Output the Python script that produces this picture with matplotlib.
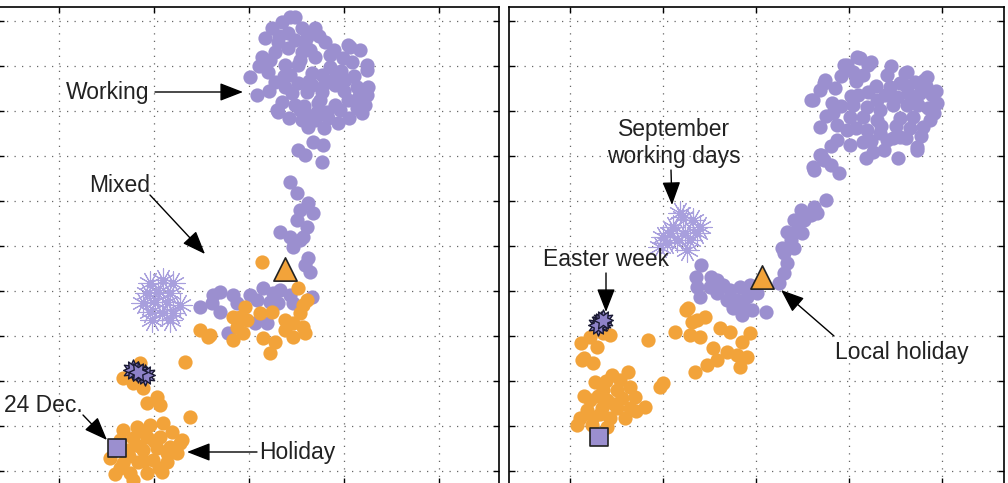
import matplotlib.pyplot as plt
import numpy as np

plt.rcParams['font.family'] = ['Liberation Sans', 'DejaVu Sans']

# ---- left panel data (embedding coordinates) ----
left_work_x = [46, 33, 23, 53, 66, 39, 16, 29, 46, 58, 76, 99, 111, 13, 26, 39, 53, 66, 94, 118,
               103, 36, 49, 81, 1, 19, 63, 73, 86, 26, 36, 49, 63, 76, 86, 108, 119, 8, 43, 58,
               73, 118, 99, 33, 46, 69, 86, 116, 29, 58, 68, 78, 113, 53, 66, 79, 89, 59, 49, 64,
               74, 56, 73, 41, 101, 28, 118, 51, 71, 41, 96, 61, 21, 81, 51, 91,
               10, 30, 56, 70, 85, 92, 105, 110, 95, 20, 35, 60, 55, 40, 75, 100, 108]
left_work_y = [229, 224, 218, 218, 218, 213, 208, 204, 206, 209, 204, 201, 196, 189, 194, 198, 194, 189, 188, 181,
               184, 181, 181, 179, 169, 174, 173, 171, 169, 164, 159, 163, 161, 163, 161, 159, 159, 151, 153, 154,
               154, 151, 146, 144, 141, 143, 141, 141, 134, 131, 134, 134, 133, 126, 126, 128, 123, 119, 96, 104,
               101, 91, 84, 229, 199, 136, 176, 186, 146, 171, 166, 196, 186, 191, 136, 136,
               180, 210, 203, 210, 196, 175, 170, 150, 155, 155, 170, 165, 140, 128, 118, 128, 138]

left_mix_px = [41, 48, 59, 51, 64, 48, 31, 41, 54, 44, 59, 56, 61, 58, 51,
               -36, -29, -16, 1, 14, 24, 31, 41, 63, -49, -37, -29, -12, 8, 21, 29, 44, 6, 18, -21]
left_mix_py = [64, 53, 43, 36, 33, 26, 14, 9, 9, -1, -12, -19, -26, 19, 6,
               -49, -46, -49, -49, -42, -47, -44, -49, -51, -61, -57, -66, -57, -54, -56, -57, -57, -77, -77, -87]

left_hol_x = [13, 49, -4, -9, -16, -2, 11, 23, 54, 51, 36, 44, 54, 36, 56, -49, -41, -16, 14, 26,
              21, 44, -12, -6, -39, 58,
              -64, -126, -109, -116, -106, -92, -102, -89, -59,
              -126, -112, -99, -86, -77, -67, -129, -116, -102, -89, -121, -106, -92, -79, -72,
              -139, -126, -111, -96, -82, -119, -102, -87, -129, -116, -69,
              -110, -95, -82, -120, -105, -90, -134, -108]
left_hol_y = [-16, -42, -61, -71, -71, -74, -67, -66, -59, -67, -74, -77, -81, -84, -87, -84, -91, -94, -92, -96,
              -107, -91, -81, -87, -89, -54,
              -116, -132, -117, -137, -142, -151, -157, -159, -171,
              -184, -181, -179, -177, -186, -194, -194, -192, -191, -191, -204, -204, -202, -201, -207,
              -212, -217, -216, -214, -216, -227, -227, -226, -222, -234, -197,
              -200, -195, -207, -210, -215, -222, -228, -185]

left_sep_x = [-99, -86, -76, -102, -91, -79, -106, -94, -82, -69, -99, -87, -76, -97, -79]
left_sep_y = [-37, -34, -37, -47, -46, -47, -57, -56, -56, -59, -66, -67, -67, -74, -74]

left_star_x = [-116, -104, -111]
left_star_y = [-124, -129, -126]
left_square = (-132, -202)
left_triangle = (36, -23)

# ---- right panel data ----
right_work_x = [104, 91, 112, 97, 107, 69, 64, 79, 57, 76, 131, 149, 144, 159, 171, 134, 102, 112, 121, 97,
                111, 129, 141, 152, 164, 176, 181, 137, 151, 162, 172, 77, 94, 107, 121, 64, 81, 91, 144, 157,
                167, 154, 111, 124, 137, 81, 94, 107, 117, 131, 161, 144, 142, 64, 57,
                101, 115, 88, 151, 168, 178, 161, 55, 68, 124, 174,
                85, 100, 120, 135, 150, 160, 170, 180, 125, 140, 100, 115, 150, 165, 70, 85, 95, 75, 128, 110,
                58, 68, 75, 83, 65,
                31, 26, 35, 31, 41, 38, 48, 45, 55, 58, 70, 28, 38, 46, 61, 28, 23,
                -55, -60, -45, -39, -59, -46, -33, -56, -39, -26, -16, -6, -29, -19, -9, -23, -13, 10, -14, 1, -4]
right_work_y = [188, 181, 181, 174, 171, 166, 156, 158, 146, 143, 171, 173, 163, 164, 169, 159, 151, 154, 146, 141,
                139, 151, 149, 153, 153, 151, 143, 141, 141, 141, 138, 133, 129, 129, 126, 119, 121, 116, 128, 129,
                119, 118, 116, 113, 108, 106, 101, 104, 94, 106, 99, 109, 88, 91, 79,
                189, 184, 181, 174, 166, 133, 96, 146, 163, 136, 126,
                170, 165, 160, 180, 160, 145, 160, 155, 120, 120, 118, 105, 108, 110, 130, 140, 150, 100, 96, 88,
                76, 86, 81, 73, 91,
                -17, -2, 6, 14, 16, 26, 26, 36, 31, 39, 46, -7, -2, 13, 33, -27, -37,
                -19, -31, -31, -34, -41, -41, -39, -51, -47, -44, -41, -39, -54, -54, -51, -62, -61, -66, -69, -47, -64]

right_hol_x = [-166, -153, -159, -146, -174, -163, -172, -175, -108, -68, -59, -51, -81, -66, -56, -36, -26, -6,
               -43, -14, -29, -19, -9, -39, -49, -16, -61, -93, -96, -70, -64,
               -161, -144, -128, -136, -153, -139, -126, -166, -149, -134, -121, -169, -154, -139, -126, -111,
               -176, -163, -146, -131, -179, -164, -149,
               -150, -158, -142, -120, -172, -156]
right_hol_y = [-91, -87, -101, -89, -114, -117, -112, -97, -94, -62, -74, -71, -86, -89, -91, -82, -86, -87,
               -102, -96, -106, -109, -111, -114, -119, -121, -126, -137, -141, -64, -76,
               -136, -129, -126, -134, -144, -144, -141, -154, -154, -152, -151, -164, -162, -162, -162, -161,
               -172, -171, -172, -172, -179, -179, -181,
               -135, -150, -158, -165, -150, -168]

right_sep_x = [-93, -96, -83, -73, -63, -56, -71, -79, -66, -86, -69, -59, -76, -89]
right_sep_y = [9, -1, 19, 29, 26, 19, 13, 6, 6, 13, -4, 13, 33, 3]

right_star_x = [-155, -158, -153]
right_star_y = [-76, -79, -74]
right_square = (-157, -191)
right_triangle = (6, -31)

purple = '#9b8fcf'
orange = '#f2a33a'
light = '#a89fdd'

fig = plt.figure(figsize=(10.08, 4.83), dpi=100)
ax1 = fig.add_axes([-2 / 1008, -1 / 483, 501 / 1008, 477 / 483])
ax2 = fig.add_axes([509 / 1008, -1 / 483, 495 / 1008, 477 / 483])


def draw(ax, wx, wy, hx, hy, sx, sy, stx, sty, sq, tri):
    ax.scatter(wx, wy, s=105, color=purple, linewidths=0, zorder=2)
    ax.scatter(hx, hy, s=105, color=orange, linewidths=0, zorder=2)
    ax.scatter(sx, sy, s=280, marker=(12, 2, 0), color=light, linewidths=0.8, zorder=2)
    # overlapped stars, one rotated
    ax.scatter(stx, sty, s=230, marker=(6, 1, 0), facecolor='#8e82c8', edgecolor='#1a1a33',
               linewidths=1.0, zorder=3)
    ax.scatter(stx, sty, s=200, marker=(6, 1, 30), facecolor='#8e82c8', edgecolor='#1a1a33',
               linewidths=1.0, zorder=3)
    ax.scatter([sq[0]], [sq[1]], s=160, marker='s', facecolor=purple, edgecolor='#222222',
               linewidths=1.2, zorder=3)
    ax.scatter([tri[0]], [tri[1]], s=280, marker='^', facecolor=orange, edgecolor='#222222',
               linewidths=1.2, zorder=3)


draw(ax1, left_work_x + left_mix_px, left_work_y + left_mix_py, left_hol_x, left_hol_y,
     left_sep_x, left_sep_y, left_star_x, left_star_y, left_square, left_triangle)
draw(ax2, right_work_x, right_work_y, right_hol_x, right_hol_y,
     right_sep_x, right_sep_y, right_star_x, right_star_y, right_square, right_triangle)

ax1.set_xlim(-251, 250)
ax2.set_xlim(-247, 248)
for ax, step in [(ax1, 95), (ax2, 93)]:
    ax.set_ylim(-238, 239)
    ax.set_xticks(np.arange(-2, 3) * step)
    ax.set_yticks(np.arange(-5, 6) * 45)
    ax.tick_params(direction='in', length=4, width=1, top=True, right=True,
                   labelleft=False, labelbottom=False)
    ax.grid(True, color='0.4', linestyle=(0, (1, 5)), linewidth=0.9)
    ax.set_axisbelow(True)
    for sp in ax.spines.values():
        sp.set_linewidth(1.2)

arrow = dict(arrowstyle='-|>,head_length=0.9,head_width=0.35', color='black',
             lw=1.0, mutation_scale=16, shrinkA=0, shrinkB=0)
fs = 16.5

# left annotations
ax1.text(-141, 154, 'Working', fontsize=fs, ha='center', va='center', color='#222222')
ax1.annotate('', xy=(-6, 154), xytext=(-94, 154), arrowprops=arrow)
ax1.text(-129, 61, 'Mixed', fontsize=fs, ha='center', va='center', color='#222222')
ax1.annotate('', xy=(-44, -8), xytext=(-99, 51), arrowprops=arrow)
ax1.text(-206, -159, '24 Dec.', fontsize=fs, ha='center', va='center', color='#222222')
ax1.annotate('', xy=(-142, -194), xytext=(-166, -169), arrowprops=arrow)
ax1.text(48, -206, 'Holiday', fontsize=fs, ha='center', va='center', color='#222222')
ax1.annotate('', xy=(-62, -206), xytext=(8, -206), arrowprops=arrow)

# right annotations
ax2.text(-82, 103, 'September\nworking days', fontsize=fs, ha='center', va='center',
         color='#222222', linespacing=1.25)
ax2.annotate('', xy=(-84, 41), xytext=(-85, 76), arrowprops=arrow)
ax2.text(-150, -14, 'Easter week', fontsize=fs, ha='center', va='center', color='#222222')
ax2.annotate('', xy=(-150, -66), xytext=(-150, -27), arrowprops=arrow)
ax2.text(146, -106, 'Local holiday', fontsize=fs, ha='center', va='center', color='#222222')
ax2.annotate('', xy=(25, -44), xytext=(78, -90), arrowprops=arrow)

plt.savefig('out.png', dpi=100)
plt.close()
